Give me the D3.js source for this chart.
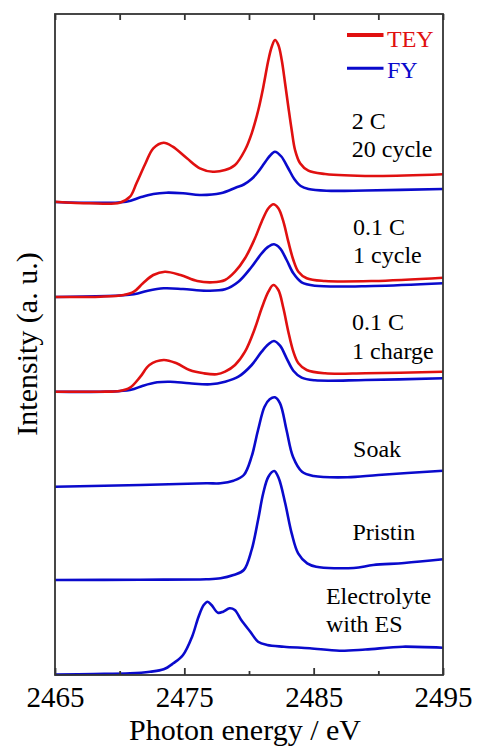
<!DOCTYPE html>
<html><head><meta charset="utf-8">
<script src="https://cdn.jsdelivr.net/npm/d3@7"></script>
<style>
body{margin:0;background:#fff;}
</style></head>
<body><svg id="chart" width="478" height="747"></svg>
<script>
// X ticks (photon energy, eV)
const xTicks = [2465, 2470, 2475, 2480, 2485, 2490, 2495];
const xTickLabels = ["2465", "", "2475", "", "2485", "", "2495"];

// Stacked spectra, intensity in arbitrary units (offsets included)
const elecE = [2465,2468,2470.8,2472.35,2473.4,2474.15,2474.9,2475.6,2476.1,2476.5,2476.8,2477.1,2477.6,2478.0,2478.5,2478.9,2479.4,2480.1,2480.7,2481.4,2482.7,2484.7,2487.0,2489.0,2491.9,2495];
const elecI = [0.5,1,1.7,3.3,5.7,11.7,20,38.3,58.3,70,73.3,70,62.3,63.3,66.7,65,55,43.3,33.3,30,28.3,26.7,24.3,25.5,28.3,27.3];

const pristE = [2465,2471.6,2476.7,2477.8,2478.8,2479.6,2480.2,2480.7,2481.1,2481.5,2481.95,2482.3,2482.8,2483.3,2483.8,2484.5,2485.2,2488.1,2489.6,2492,2495];
const pristI = [95,95.3,95.7,96.7,100,105,125,155,181.7,198.3,204,196.7,171.7,141.7,121.7,111.7,108.3,107,110,112,115.7];

const soakE = [2465,2471.6,2476.7,2477.8,2478.8,2479.6,2480.2,2480.7,2481.2,2481.6,2482.0,2482.4,2482.9,2483.4,2484.1,2485.0,2487.6,2490,2495];
const soakI = [188.3,190,191.7,191.7,194.3,200,218.3,245,268.3,275.7,277.7,271.7,245,218.3,203.3,199,197.7,200,204.3];

const chargeTeyE = [2465,2468.5,2470.0,2470.8,2471.6,2472.3,2473.4,2474.4,2475.4,2476.5,2477.5,2478.15,2478.92,2479.69,2480.46,2480.98,2481.5,2481.88,2482.27,2482.66,2483.04,2483.43,2483.82,2484.46,2485.88,2489,2495];
const chargeTeyI = [283.3,283.3,284,287.3,298.3,310,315,311.7,305,301.7,300.7,303.3,310,323.3,346.7,366.7,383.3,390,385,366.7,343.3,323.3,311.7,305,301.7,301.7,303.3];
const chargeFyE = [2465,2470.8,2471.8,2472.9,2473.9,2475.4,2477.0,2478.15,2479.18,2480.21,2480.98,2481.5,2481.93,2482.4,2482.91,2483.43,2484.07,2485.1,2489,2495];
const chargeFyI = [283.3,285,289.3,292.7,293.3,291.7,290.7,293.3,298.3,310,323.3,330.7,334,329.3,316.7,304.3,297.3,294.7,295,296.7];

const cycleTeyE = [2465,2468.5,2470.3,2471.1,2471.8,2472.6,2473.5,2474.7,2476.0,2477.2,2478.15,2478.92,2479.69,2480.46,2480.98,2481.5,2481.88,2482.27,2482.66,2483.04,2483.43,2483.82,2484.46,2485.88,2489.6,2495];
const cycleTeyI = [378,378.3,380,383.3,391.7,400,403.3,400,394,392.7,395,403.3,416.7,436.7,453.3,466.7,470.7,466.7,453.3,433.3,415,403.3,396.7,394,394,397.3];
const cycleFyE = [2465,2471.1,2472.1,2473.4,2474.9,2476.7,2478.15,2479.18,2480.21,2480.98,2481.5,2481.93,2482.4,2482.91,2483.43,2484.07,2485.1,2489.6,2495];
const cycleFyI = [378,380.7,384,386.7,386,384.3,385.7,393.3,408.3,421.7,428.3,430.7,426.7,415,401.7,392.7,389.3,389,391.7];

const c20TeyE = [2465,2467.7,2470.0,2470.8,2471.3,2472.0,2472.6,2473.4,2474.1,2475.2,2476.2,2477.2,2478.15,2478.92,2479.69,2480.21,2480.72,2481.11,2481.5,2481.76,2482.01,2482.27,2482.53,2482.79,2483.04,2483.3,2483.56,2483.95,2484.59,2485.88,2489.6,2495];
const c20TeyI = [473.3,471.7,472.3,478.3,491.7,511.7,526.7,532.3,528.3,516.7,506.7,503.3,505,510,525,541.7,565,588.3,615,628.3,635,630,615,591.7,568.3,545,525,511.7,504.3,501,499,500.7];
const c20FyE = [2465,2470.5,2471.6,2472.6,2473.6,2474.9,2476.2,2477.8,2479.0,2479.6,2480.2,2480.7,2481.2,2481.6,2482.0,2482.5,2483.0,2483.5,2484.0,2484.6,2486.0,2489,2495];
const c20FyI = [473,473.3,477.7,481,482.3,481.7,480,481.7,487.5,490.5,496,503,512,519,523.3,518.5,507.5,496,489,486,484.3,484.5,486];

const labels = [
  {lines:["2 C","20 cycle"], e:2487.95, i:[545.7,518.3]},
  {lines:["0.1 C","1 cycle"], e:2488.05, i:[440,411.7]},
  {lines:["0.1 C","1 charge"], e:2487.97, i:[345,315.7]},
  {lines:["Soak"], e:2488.05, i:[218.3]},
  {lines:["Pristin"], e:2488.0, i:[135]},
  {lines:["Electrolyte","with ES"], e:2485.95, i:[71,43.3]}
];

const RED = "#e01010", BLUE = "#0a0acc";
const FONT = "Liberation Serif";

const svg = d3.select("#chart");
const L = 55, R = 443, T = 14, B = 675;
const x = d3.scaleLinear().domain([2465, 2495]).range([L, R]);
const y = d3.scaleLinear().domain([0, 661]).range([B, T]);

const series = [
  {e:elecE, v:elecI, c:BLUE},
  {e:pristE, v:pristI, c:BLUE},
  {e:soakE, v:soakI, c:BLUE},
  {e:chargeFyE, v:chargeFyI, c:BLUE},
  {e:chargeTeyE, v:chargeTeyI, c:RED},
  {e:cycleFyE, v:cycleFyI, c:BLUE},
  {e:cycleTeyE, v:cycleTeyI, c:RED},
  {e:c20FyE, v:c20FyI, c:BLUE},
  {e:c20TeyE, v:c20TeyI, c:RED}
];

const line = d3.line().x(d => x(d[0])).y(d => y(d[1])).curve(d3.curveCatmullRom.alpha(0.5));
series.forEach(s => {
  svg.append("path")
    .datum(s.e.map((e, k) => [e, s.v[k]]))
    .attr("d", line).attr("fill", "none")
    .attr("stroke", s.c).attr("stroke-width", 2.6)
    .attr("stroke-linejoin", "round");
});

// Frame
svg.append("rect").attr("x", L).attr("y", T).attr("width", R - L).attr("height", B - T)
  .attr("fill", "none").attr("stroke", "#333").attr("stroke-width", 1.8);

// Bottom axis
const bx = svg.append("g").attr("transform", `translate(0,${B})`)
  .call(d3.axisBottom(x).tickValues(xTicks).tickSizeInner(-7).tickSizeOuter(0)
    .tickFormat((d, k) => xTickLabels[k]));
bx.attr("font-family", null).attr("font-size", null);
bx.select(".domain").remove();
bx.selectAll(".tick line").attr("stroke", "#333").attr("stroke-width", 1.8)
  .attr("y2", (d, k) => xTickLabels[k] ? -7 : -4);
bx.selectAll(".tick text").attr("y", 31.5).attr("dy", 0)
  .attr("font-size", 29).attr("fill", "#000").style("font-family", FONT);

// Top axis
const tx = svg.append("g").attr("transform", `translate(0,${T})`)
  .call(d3.axisTop(x).tickValues(xTicks).tickSizeInner(-6).tickSizeOuter(0).tickFormat(""));
tx.select(".domain").remove();
tx.selectAll(".tick line").attr("stroke", "#333").attr("stroke-width", 1.8);

// Axis titles
svg.append("text").attr("x", (L + R) / 2 - 4).attr("y", 740).attr("text-anchor", "middle")
  .style("font-family", FONT).attr("font-size", 30).text("Photon energy / eV");
svg.append("text").attr("transform", "translate(37,344) rotate(-90)")
  .style("font-family", FONT).attr("text-anchor", "middle").attr("font-size", 30).text("Intensity (a. u.)");

// Sample labels
labels.forEach(lb => {
  lb.lines.forEach((t, k) => {
    svg.append("text").attr("x", x(lb.e)).attr("y", y(lb.i[k]))
      .style("font-family", FONT).attr("font-size", 24).attr("fill", "#000").text(t);
  });
});

// Legend
const legend = [{name:"TEY", c:RED, yy:35, ty:46.7, w:4}, {name:"FY", c:BLUE, yy:68.3, ty:78.3, w:3}];
legend.forEach(g => {
  svg.append("line").attr("x1", 347).attr("x2", 383.5).attr("y1", g.yy).attr("y2", g.yy)
    .attr("stroke", g.c).attr("stroke-width", g.w);
  svg.append("text").attr("x", 387).attr("y", g.ty).style("font-family", FONT).attr("font-size", 24)
    .attr("fill", g.c).text(g.name);
});
</script></body></html>
